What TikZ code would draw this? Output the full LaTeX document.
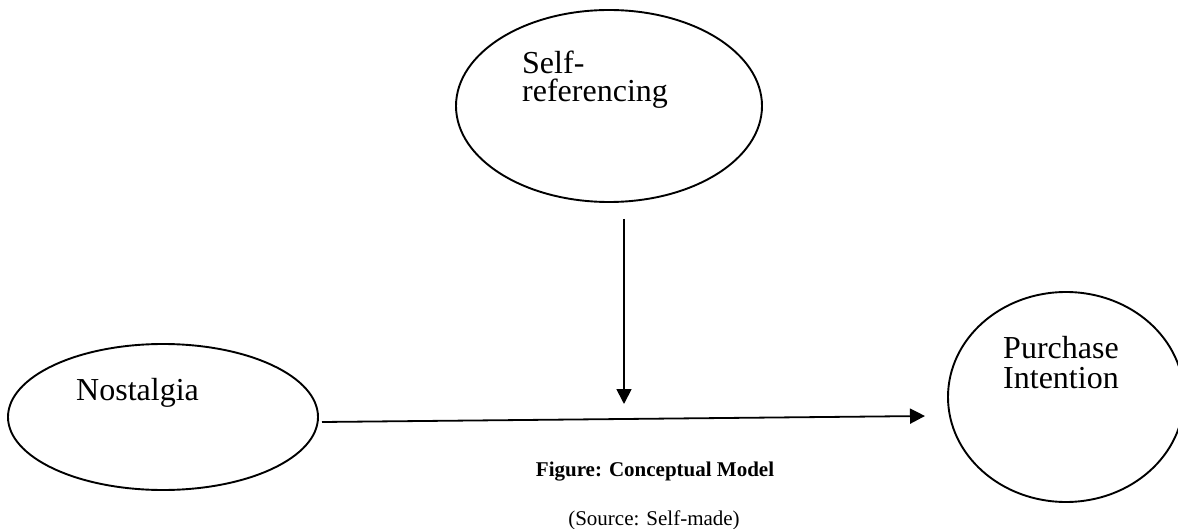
\documentclass[tikz,border=0pt]{standalone}
\usepackage{fontspec}
\setmainfont{Liberation Serif}
\usetikzlibrary{shapes.geometric,arrows.meta}
\begin{document}
\begin{tikzpicture}[x=1pt,y=-1pt,
  oval/.style={draw,ellipse,line width=1.9pt,inner sep=0pt},
  lbl/.style={anchor=base west,inner sep=0pt,font=\fontsize{32}{34}\selectfont},
  captext/.style={anchor=base,inner sep=0pt,font=\fontsize{21}{24}\selectfont},
  conn/.style={line width=1.8pt,-{Triangle[length=15pt,width=15pt]}}]
\useasboundingbox (0,0) rectangle (1178,529);
\fill[white] (0,0) rectangle (1178,529);
% ellipses
\node[oval,minimum width=306pt,minimum height=192pt] (self) at (609,106) {};
\node[oval,minimum width=310pt,minimum height=146pt] (nost) at (163,417) {};
\node[oval,minimum width=236pt,minimum height=210pt] (pi) at (1066,397) {};
% texts
\node[lbl] (t1) at (522,74) {Self-};
\node[lbl] (t2) at (522,102) {referencing};
\node[lbl] (t3) at (76,400) {Nostalgia};
\node[lbl] (t4) at (1003,358) {Purchase};
\node[lbl] (t5) at (1003,388) {Intention};
\node[captext] (c1) at (655,476) {\bfseries Figure: Conceptual Model};
\node[captext] (c2) at (654,525) {(Source: Self-made)};
% connectors
\coordinate (vs) at (624,219);
\coordinate (ve) at (624,404);
\coordinate (hs) at (322,422);
\coordinate (he) at (925,416);
\draw[conn] (vs) -- (ve);
\draw[conn] (hs) -- (he);
\end{tikzpicture}
\end{document}
